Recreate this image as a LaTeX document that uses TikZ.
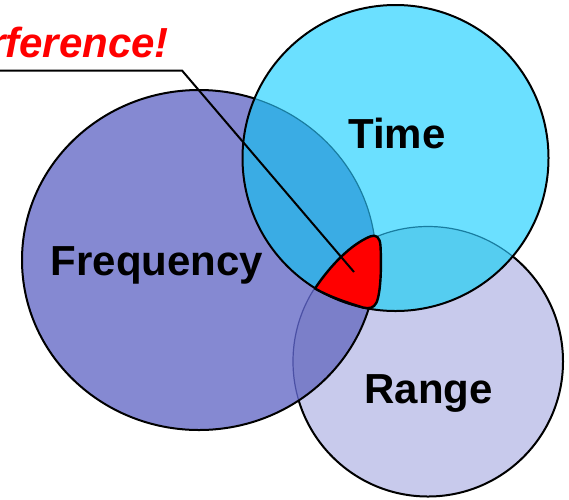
\documentclass[tikz,border=0pt]{standalone}
\usepackage{fontspec}
\setmainfont{Liberation Sans}

\tikzset{
  ring/.style={draw=black, line width=2pt},
  ghost/.style={line width=1.2pt},
  freqr/.style={x radius=177pt, y radius=170pt},
  timer/.style={radius=153pt},
  ranger/.style={radius=135pt},
  lbl/.style={font=\fontsize{42}{50}\selectfont\bfseries, inner sep=0pt, anchor=base},
  warn/.style={text=red, font=\fontsize{42}{50}\selectfont\bfseries\itshape, inner sep=0pt},
  zone/.style={fill=red, draw=black, line width=2.4pt, line join=round},
  callout/.style={draw=black, line width=2pt},
}

\begin{document}
\begin{tikzpicture}[x=1pt, y=-1pt]

  % Couleurs des zones
  \definecolor{colF}{RGB}{133,137,210}
  \definecolor{colT}{RGB}{107,224,255}
  \definecolor{colR}{RGB}{200,202,236}
  \definecolor{colFT}{RGB}{58,172,228}
  \definecolor{colFR}{RGB}{123,127,201}
  \definecolor{colTR}{RGB}{85,205,240}
  \definecolor{edgeF}{RGB}{75,80,165}
  \definecolor{edgeT}{RGB}{25,125,160}

  \useasboundingbox (0,0) rectangle (569,499);
  \clip (0,0) rectangle (569,499);

  \coordinate (fc) at (199,260);
  \coordinate (tc) at (395.5,158);
  \coordinate (rc) at (428,361.5);

  % Range (dessous)
  \fill[colR] (rc) circle [ranger];
  \draw[ring] (rc) circle [ranger];

  % Frequency
  \fill[colF] (fc) ellipse [freqr];
  \begin{scope}
    \clip (fc) ellipse [freqr];
    \fill[colFR] (rc) circle [ranger];
    \draw[ghost, edgeF] (rc) circle [ranger];
  \end{scope}
  \draw[ring] (fc) ellipse [freqr];

  % Time (dessus)
  \fill[colT] (tc) circle [timer];
  \begin{scope}
    \clip (tc) circle [timer];
    \fill[colFT] (fc) ellipse [freqr];
    \fill[colTR] (rc) circle [ranger];
    \draw[ghost, edgeT] (fc) ellipse [freqr];
    \draw[ghost, edgeT] (rc) circle [ranger];
  \end{scope}
  \draw[ring] (tc) circle [timer];

  % Zone commune
  \draw[zone] (315,288.5) .. controls (330,266) and (350,245) .. (370,236.5)
    .. controls (376,234) and (380,237) .. (380.5,246)
    .. controls (381.5,265) and (381,292) .. (376.5,302.5)
    .. controls (374,308) and (369,309) .. (363,307.5)
    .. controls (345,302) and (328,296) .. (315,288.5) -- cycle;
  \coordinate (hit) at (354,272);

  % Etiquettes
  \node[lbl] (freq) at (157,275) {Frequency};
  \node[lbl] (time) at (397,148) {Time};
  \node[lbl] (range) at (428.5,403) {Range};

  \node[warn, anchor=base east] (interf) at (169,57) {Interference!};
  \coordinate (elbow) at (182,70.5);
  \draw[callout] (interf.west |- elbow) -- (elbow) -- (hit);

\end{tikzpicture}
\end{document}
